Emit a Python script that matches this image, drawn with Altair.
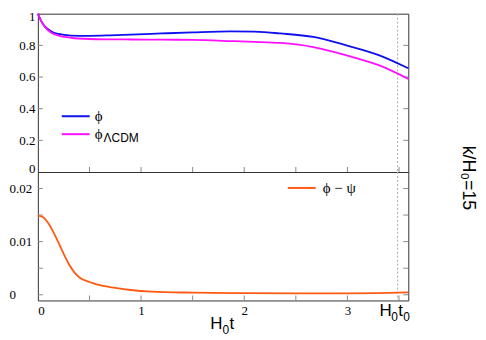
import altair as alt
import pandas as pd

# ---------------- data ----------------
t_top = [0, 0.035, 0.07, 0.13, 0.2, 0.32, 0.5, 0.7, 0.9, 1.2, 1.5, 1.87, 2.1, 2.35, 2.67, 2.99, 3.31, 3.59]
phi = [1.0, 0.95, 0.918, 0.888, 0.872, 0.862, 0.86, 0.863, 0.868, 0.875, 0.882, 0.888, 0.886, 0.875, 0.853, 0.80, 0.737, 0.655]
phi_lcdm = [1.0, 0.95, 0.915, 0.88, 0.862, 0.848, 0.84, 0.838, 0.837, 0.836, 0.834, 0.827, 0.822, 0.815, 0.789, 0.737, 0.673, 0.588]

t_bot = [0, 0.05, 0.1, 0.15, 0.2, 0.25, 0.3, 0.35, 0.4, 0.5, 0.6, 0.75, 0.9, 1.1, 1.5, 2.0, 2.5, 3.0, 3.3, 3.59]
phi_minus_psi = [0.0149, 0.0146, 0.0135, 0.0118, 0.0098, 0.0077, 0.0058, 0.0043, 0.0033, 0.0024, 0.0018,
                 0.0013, 0.0009, 0.0006, 0.0004, 0.0003, 0.00025, 0.00025, 0.0003, 0.00045]

t_today = [3.486]
x_ticks = [0.5, 1, 1.5, 2, 2.5, 3, 3.5]
x_labels = [0, 1, 2, 3]
y_ticks_top = [0.2, 0.4, 0.6, 0.8]
y_labels_top = [0, 0.2, 0.4, 0.6, 0.8, 1]
y_ticks_bot = [0, 0.005, 0.01, 0.015, 0.02]
y_labels_bot = [0, 0.01, 0.02]

BLUE = "#1010ee"
MAGENTA = "#ff10ff"
ORANGE = "#ff5a14"
TICK = "#888888"
FRAME = "#333333"
SERIF = "Liberation Serif, Times New Roman, Times, serif"
SANS = "Liberation Sans, Arial, Helvetica, sans-serif"

W, HT, HB = 372, 159, 129

xs = alt.Scale(domain=[0, 3.59], nice=False, zero=False)
yts = alt.Scale(domain=[0, 1], nice=False)
ybs = alt.Scale(domain=[-0.00107, 0.0231], nice=False, zero=False)

top_axis = alt.Axis(values=y_labels_top, format="~g", labelAlign="right", labelPadding=3,
                    labelFlush=True, labelFlushOffset=3,
                    minExtent=28, maxExtent=28, title=None)
bot_axis = alt.Axis(values=y_labels_bot, format="~g", labelAlign="left", labelPadding=29,
                    minExtent=28, maxExtent=28, title=None)
xb_axis = alt.Axis(values=x_labels, format="d", labelPadding=4, title=None)

XT = alt.X("t:Q", scale=xs, axis=None)
XB = alt.X("t:Q", scale=xs, axis=xb_axis)
YT = alt.Y("v:Q", scale=yts, axis=top_axis)
YB = alt.Y("v:Q", scale=ybs, axis=bot_axis)

one = pd.DataFrame({"a": [0]})


def txt(x, y, s, size, font=SANS, align="left", baseline="alphabetic", angle=0):
    kw = dict(text=s, fontSize=size, font=font, align=align, baseline=baseline, color="black")
    if angle:
        kw["angle"] = angle
    return alt.Chart(one).mark_text(**kw).encode(x=alt.value(x), y=alt.value(y))


def hline(x1, x2, y, color):
    return alt.Chart(one).mark_rule(color=color, strokeWidth=2).encode(
        x=alt.value(x1), x2=alt.value(x2), y=alt.value(y))


# ---------------- top panel ----------------
df_phi = pd.DataFrame({"t": t_top, "v": phi})
df_lcdm = pd.DataFrame({"t": t_top, "v": phi_lcdm})

top_layers = [
    alt.Chart(pd.DataFrame({"t": t_today})).mark_rule(color="#aaaaaa", strokeDash=[2, 2], strokeWidth=1)
    .encode(x=XT),
    alt.Chart(pd.DataFrame({"v": y_ticks_top})).mark_rule(color=TICK).encode(y=YT, x=alt.value(0), x2=alt.value(5)),
    alt.Chart(pd.DataFrame({"v": y_ticks_top})).mark_rule(color=TICK).encode(y=YT, x=alt.value(W - 5), x2=alt.value(W)),
    alt.Chart(pd.DataFrame({"t": x_ticks})).mark_rule(color=TICK).encode(x=XT, y=alt.value(HT - 5), y2=alt.value(HT)),
    alt.Chart(df_phi).mark_line(color=BLUE, strokeWidth=1.8, interpolate="monotone").encode(x=XT, y=YT),
    alt.Chart(df_lcdm).mark_line(color=MAGENTA, strokeWidth=1.8, interpolate="monotone").encode(x=XT, y=YT),
    hline(24, 52, 103, BLUE),
    hline(24, 52, 121, MAGENTA),
    txt(57, 108, "ϕ", 15, font=SERIF),
    txt(57, 126, "ϕ", 15, font=SERIF),
    txt(66, 129, "ΛCDM", 12),
]
top = alt.layer(*top_layers).properties(
    width=W, height=HT, view=alt.ViewBackground(stroke=FRAME, strokeWidth=1))

# ---------------- bottom panel ----------------
df_diff = pd.DataFrame({"t": t_bot, "v": phi_minus_psi})

bot_layers = [
    alt.Chart(pd.DataFrame({"t": t_today})).mark_rule(color="#aaaaaa", strokeDash=[2, 2], strokeWidth=1)
    .encode(x=XB),
    alt.Chart(pd.DataFrame({"v": y_ticks_bot})).mark_rule(color=TICK).encode(y=YB, x=alt.value(0), x2=alt.value(5)),
    alt.Chart(pd.DataFrame({"v": y_ticks_bot})).mark_rule(color=TICK).encode(y=YB, x=alt.value(W - 5), x2=alt.value(W)),
    alt.Chart(pd.DataFrame({"t": x_ticks})).mark_rule(color=TICK).encode(x=XB, y=alt.value(HB - 5), y2=alt.value(HB)),
    alt.Chart(df_diff).mark_line(color=ORANGE, strokeWidth=1.8, interpolate="monotone").encode(x=XB, y=YB),
    hline(251, 279, 16, ORANGE),
    txt(286, 21, "ϕ − ψ", 15, font=SERIF),
    # x title H0 t
    txt(173, 158, "H", 17),
    txt(185.5, 163, "0", 12),
    txt(192.5, 158, "t", 17),
    # H0 t0
    txt(343, 145, "H", 17),
    txt(355, 150, "0", 12),
    txt(362, 145, "t", 17),
    txt(367, 150, "0", 12),
    # side label
    txt(432, 6, "k/H₀=15", 18, align="center", baseline="middle", angle=90),
]
bottom = alt.layer(*bot_layers).properties(
    width=W, height=HB, view=alt.ViewBackground(stroke=FRAME, strokeWidth=1))

chart = alt.vconcat(top, bottom, spacing=0, bounds="flush").properties(
    padding={"left": 0, "top": 0, "right": 0, "bottom": 0}
).configure_axis(
    grid=False, domain=False, ticks=False,
    labelFont=SERIF, labelFontSize=13, labelColor="black"
)

chart.save("out.html", embed_options={"renderer": "svg", "actions": False})
